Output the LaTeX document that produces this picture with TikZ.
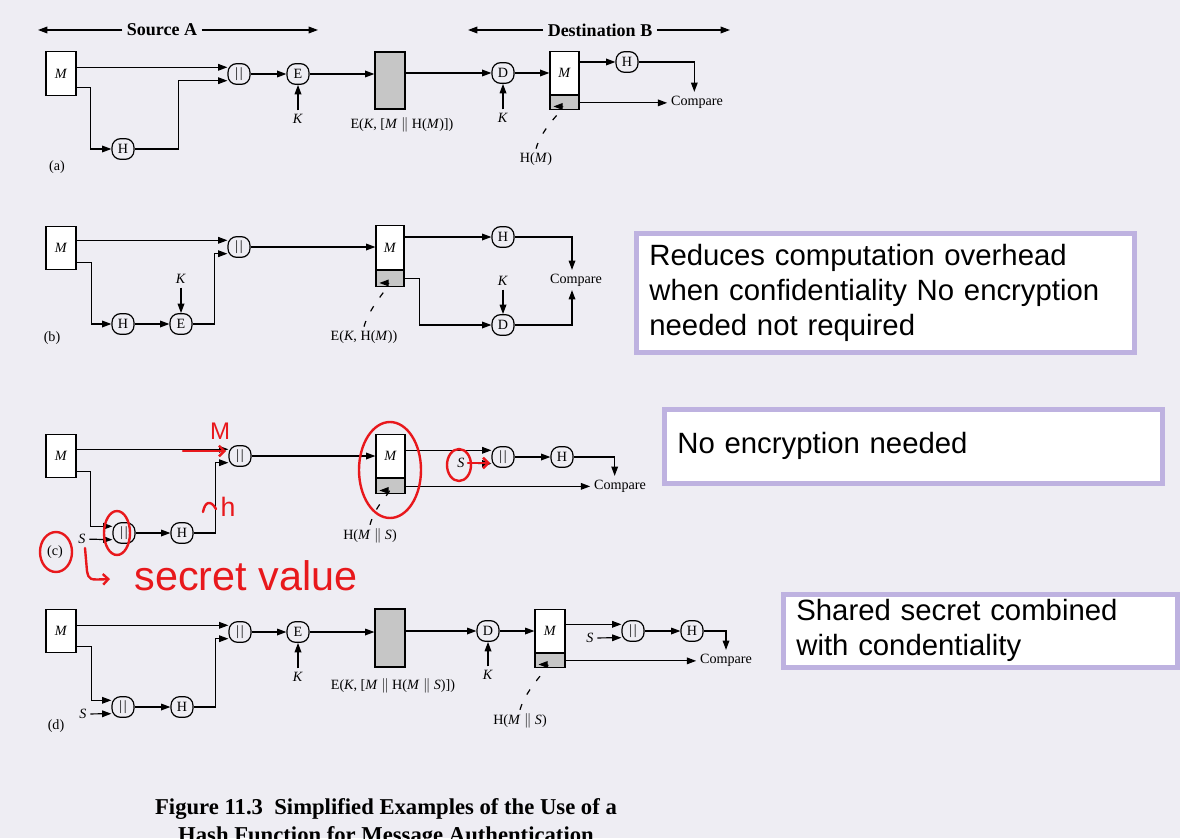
\documentclass[tikz,border=0pt]{standalone}
\usepackage{fontspec}
\setmainfont{Liberation Serif}
\newfontfamily\notefont{Liberation Sans}
\usepackage{tikz}
\usetikzlibrary{arrows.meta,positioning,calc}

\definecolor{paper}{RGB}{238,237,243}
\definecolor{hashgray}{RGB}{198,198,198}
\definecolor{notelilac}{RGB}{190,178,224}
\definecolor{penred}{RGB}{232,24,28}

\newcommand{\catbar}{|\kern1.2pt|}

\begin{document}
\begin{tikzpicture}[
  x=0.75pt, y=-0.75pt,
  font=\fontsize{10.6}{12.5}\selectfont,
  >={Triangle[length=7pt,width=5pt]},
  line width=0.9pt,
  op/.style={draw, rounded corners=6.5pt, minimum width=16.5pt, minimum height=15.5pt, inner sep=0pt},
  msg/.style={draw, fill=white, minimum width=22.5pt, minimum height=32.5pt, inner sep=0pt},
  ctext/.style={draw, fill=hashgray, minimum width=22.5pt, inner sep=0pt},
  hfield/.style={draw, fill=hashgray, minimum width=21.75pt, minimum height=10.5pt, inner sep=0pt, anchor=north},
  lbl/.style={inner sep=2.5pt},
  side/.style={font=\fontsize{13.5}{16}\selectfont\bfseries, inner sep=3pt},
  leader/.style={->, dash pattern=on 4.5pt off 8pt},
  note/.style={draw=notelilac, line width=3.75pt, fill=white, align=left, inner xsep=10pt,
    anchor=north west, font=\notefont\fontsize{22}{26.25}\selectfont},
  pen/.style={draw=penred, line width=1.8pt, line cap=round, line join=round},
  scrawl/.style={text=penred, inner sep=0pt, font=\notefont\fontsize{20}{24}\selectfont},
  caption/.style={font=\fontsize{17}{21}\selectfont\bfseries, anchor=base},
]
  \useasboundingbox (0,0) rectangle (1180,838);
  \fill[paper] (0,0) rectangle (1180,838);

  % ---------------- (a) ----------------
  \coordinate (srcL) at (38,30);
  \coordinate (srcR) at (318,30);
  \node[side] (srcA) at (162,30) {Source A};
  \draw[->] (srcA) -- (srcL);
  \draw[->] (srcA) -- (srcR);
  \coordinate (dstL) at (468,30);
  \coordinate (dstR) at (730,30);
  \node[side] (dstB) at (600,30) {Destination B};
  \draw[->] (dstB) -- (dstL);
  \draw[->] (dstB) -- (dstR);

  \node[msg] (mA) at (61,73.5) {\textit{M}};
  \node[op] (catA) at (239,74) {\catbar};
  \node[op] (hA) at (123,149) {H};
  \node[op] (encA) at (298,74) {E};
  \node[lbl] (kA) at (298,119) {\textit{K}};
  \node[ctext, minimum height=42.75pt] (ctA) at (390,80.5) {};
  \node[lbl] (ctlA) at (402,125) {E(\textit{K}, [\textit{M} $\|$ H(\textit{M})])};
  \node[op] (decA) at (503,73) {D};
  \node[lbl] (kdA) at (503,118) {\textit{K}};
  \node[msg, minimum width=21.75pt] (mbA) at (564.5,73) {\textit{M}};
  \node[hfield] (hfA) at (mbA.south) {};
  \node[op] (hvA) at (627,62) {H};
  \node[lbl] (cmpA) at (697,102) {Compare};
  \node[lbl] (hmA) at (536,159) {H(\textit{M})};
  \node[lbl] (tagA) at (57,167) {(a)};

  \draw[->] (mA.east |- catA.150) -- (catA.150);
  \draw[->] ($(mA.south east)+(0,-8)$) -- ++(14,0) |- (hA);
  \draw[->] (hA.east) -- ++(44,0) |- (catA.210);
  \draw[->] (catA) -- (encA);
  \draw[->] (kA) -- (encA);
  \draw[->] (encA) -- (ctA.west |- encA);
  \draw[->] (ctA.east |- decA) -- (decA);
  \draw[->] (kdA) -- (decA);
  \draw[->] (decA) -- (mbA);
  \draw[->] (mbA.east |- hvA) -- (hvA);
  \draw[->] (hvA) -| ([xshift=-2pt]cmpA.north);
  \draw[->] (hfA.east) -- (cmpA.west |- hfA.east);
  \draw[leader] (hmA.north) .. controls +(6,-22) and +(14,0) .. ($(hfA.south west)+(4,-4)$);

  % ---------------- (b) ----------------
  \node[msg] (mB) at (61,248) {\textit{M}};
  \node[op] (catB) at (239,247) {\catbar};
  \node[op] (hB) at (123,324) {H};
  \node[op] (encB) at (181,324) {E};
  \node[lbl] (kB) at (181,279) {\textit{K}};
  \node[msg, minimum width=21pt] (mbB) at (390,247.5) {\textit{M}};
  \node[hfield, minimum width=21pt, minimum height=12pt] (hfB) at (mbB.south) {};
  \node[op] (hvB) at (503,237) {H};
  \node[op] (decB) at (503,325) {D};
  \node[lbl] (kdB) at (503,281) {\textit{K}};
  \node[lbl] (cmpB) at (576,280) {Compare};
  \node[lbl] (ctlB) at (364,337) {E(\textit{K}, H(\textit{M}))};
  \node[lbl] (tagB) at (52,338) {(b)};

  \draw[->] (mB.east |- catB.150) -- (catB.150);
  \draw[->] ($(mB.south east)+(0,-8)$) -- ++(15,0) |- (hB);
  \draw[->] (hB) -- (encB);
  \draw[->] (kB) -- (encB);
  \draw[->] (encB.east) -- ++(22,0) |- (catB.210);
  \draw[->] (catB) -- (mbB.west |- catB);
  \draw[->] (mbB.east |- hvB) -- (hvB);
  \draw[->] (hvB) -| ([xshift=-3pt]cmpB.north);
  \draw[->] (hfB.east) -- ++(15,0) |- (decB);
  \draw[->] (kdB) -- (decB);
  \draw[->] (decB) -| ([xshift=-3pt]cmpB.south);
  \draw[leader] (ctlB.north) .. controls +(6,-22) and +(14,0) .. ($(hfB.south west)+(4,-4)$);

  % ---------------- (c) ----------------
  \node[msg] (mC) at (61,456) {\textit{M}};
  \node[op] (catC) at (240,456) {\catbar};
  \node[op] (mixC) at (124,533) {\catbar};
  \node[lbl] (sC) at (82,539) {\textit{S}};
  \node[op] (hC) at (182,533) {H};
  \node[msg, minimum width=21.75pt] (mbC) at (390.5,456) {\textit{M}};
  \node[hfield, minimum height=11.25pt] (hfC) at (mbC.south) {};
  \node[op] (catC2) at (503,457) {\catbar};
  \node[lbl] (s2C) at (461,463) {\textit{S}};
  \node[op] (hvC) at (562,457) {H};
  \node[lbl] (cmpC) at (620,486) {Compare};
  \node[lbl] (hmC) at (370,536) {H(\textit{M} $\|$ \textit{S})};
  \node[lbl] (tagC) at (55,552) {(c)};

  \draw[->] (mC.east |- catC.150) -- (catC.150);
  \draw[->] ($(mC.south east)+(0,-7)$) -- ++(14,0) |- (mixC.150);
  \draw[->] (sC) -- (mixC.210);
  \draw[->] (mixC) -- (hC);
  \draw[->] (hC.east) -- ++(22,0) |- (catC.210);
  \draw[->] (catC) -- (mbC.west |- catC);
  \draw[->] (mbC.east |- catC2.150) -- (catC2.150);
  \draw[->] (s2C) -- (catC2.210);
  \draw[->] (catC2) -- (hvC);
  \draw[->] (hvC) -| ([xshift=-4pt]cmpC.north);
  \draw[->] (hfC.east) -- (cmpC.west |- hfC.east);
  \draw[leader] (hmC.north) .. controls +(6,-22) and +(14,0) .. ($(hfC.south west)+(4,-4)$);

  % ---------------- (d) ----------------
  \node[msg] (mD) at (61,631) {\textit{M}};
  \node[op] (catD) at (240,632) {\catbar};
  \node[op] (mixD) at (123,707) {\catbar};
  \node[lbl] (sD) at (83,714) {\textit{S}};
  \node[op] (hD) at (182,707) {H};
  \node[op] (encD) at (298,632) {E};
  \node[lbl] (kD) at (298,677) {\textit{K}};
  \node[ctext, minimum height=43.5pt] (ctD) at (390,638) {};
  \node[lbl] (ctlD) at (393,686) {E(\textit{K}, [\textit{M} $\|$ H(\textit{M} $\|$ \textit{S})])};
  \node[op] (decD) at (488,631) {D};
  \node[lbl] (kdD) at (488,675) {\textit{K}};
  \node[msg] (mbD) at (550,631) {\textit{M}};
  \node[hfield, minimum width=22.5pt] (hfD) at (mbD.south) {};
  \node[op] (catD2) at (633,631) {\catbar};
  \node[lbl] (s2D) at (590,638) {\textit{S}};
  \node[op] (hvD) at (692,631) {H};
  \node[lbl] (cmpD) at (726,660) {Compare};
  \node[lbl] (hmD) at (520,721) {H(\textit{M} $\|$ \textit{S})};
  \node[lbl] (tagD) at (56,726) {(d)};

  \draw[->] (mD.east |- catD.150) -- (catD.150);
  \draw[->] ($(mD.south east)+(0,-7)$) -- ++(15,0) |- (mixD.150);
  \draw[->] (sD) -- (mixD.210);
  \draw[->] (mixD) -- (hD);
  \draw[->] (hD.east) -- ++(22,0) |- (catD.210);
  \draw[->] (catD) -- (encD);
  \draw[->] (kD) -- (encD);
  \draw[->] (encD) -- (ctD.west |- encD);
  \draw[->] (ctD.east |- decD) -- (decD);
  \draw[->] (kdD) -- (decD);
  \draw[->] (decD) -- (mbD);
  \draw[->] (mbD.east |- catD2.150) -- (catD2.150);
  \draw[->] (s2D) -- (catD2.210);
  \draw[->] (catD2) -- (hvD);
  \draw[->] (hvD) -| (cmpD);
  \draw[->] (hfD.east) -- (cmpD.west |- hfD.east);
  \draw[leader] (hmD.north) .. controls +(6,-22) and +(14,0) .. ($(hfD.south west)+(4,-4)$);

  % ---------------- notes ----------------
  \node[note, text width=354pt, minimum height=89.25pt] (noteB) at (633.5,230.5)
    {Reduces computation overhead\\ when confidentiality No encryption\\ needed not required};
  \node[note, text width=354pt, minimum height=55.5pt] (noteC) at (661.5,406.5)
    {No encryption needed};
  \node[note, text width=275.5pt, minimum height=54.75pt] (noteD) at (780.5,591.5)
    {Shared secret combined\\ with condentiality};

  % ---------------- pen marks on (c) ----------------
  \node[scrawl, font=\notefont\fontsize{18}{20}\selectfont] (penM) at (220,431) {M};
  \node[scrawl] (penH) at (228,507) {h};
  \node[scrawl, font=\notefont\fontsize{31}{34}\selectfont] (penSV) at (246,576) {secret value};
  \draw[pen, -{Straight Barb[length=4pt]}] (183,451) -- (226,451);
  \draw[pen] (203,512) .. controls (205,501) and (211,500) .. (216,509);
  \draw[pen] (390,470) ellipse [x radius=31, y radius=48];
  \draw[pen] (117,533) ellipse [x radius=13, y radius=22];
  \draw[pen] (56,552) ellipse [x radius=16, y radius=20];
  \draw[pen] (459,465) ellipse [x radius=12, y radius=16];
  \draw[pen, -{Straight Barb[length=4pt]}] (85,548) -- (87,571) .. controls (89,580) .. (110,579);
  \draw[pen, -{Straight Barb[length=4pt]}] (468,463) -- (490,463);

  % ---------------- caption ----------------
  \node[caption] (capA) at (386,814) {Figure 11.3\ \ Simplified Examples of the Use of a};
  \node[caption] (capB) at (386,842) {Hash Function for Message Authentication};
\end{tikzpicture}
\end{document}
